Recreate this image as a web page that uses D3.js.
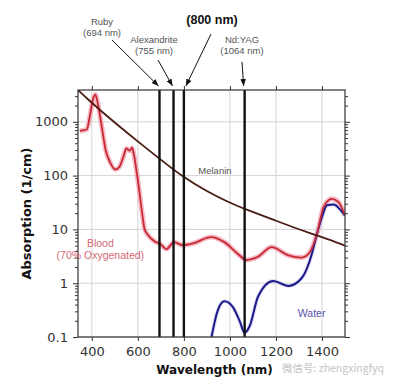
<!DOCTYPE html>
<html>
<head>
<meta charset="utf-8">
<script src="https://cdn.jsdelivr.net/npm/d3@7"></script>
<style>
  body { margin: 0; background: #fff; }
  #chart { width: 394px; height: 387px; }
  .tick text { font-family: "DejaVu Sans", sans-serif; font-size: 13px; fill: #333; }
  .axis path { display: none; }
  .axis line { stroke: #333; }
  .note { font-family: "Liberation Sans", Arial, sans-serif; font-size: 9.5px; fill: #555; }
</style>
</head>
<body>
<div id="chart"></div>
<script>
// absorption data

var xTicks = [400, 600, 800, 1000, 1200, 1400];
var yTicks = [0.1, 1, 10, 100, 1000];

var melaninNm  = [340, 388, 436, 497, 597, 698, 799, 900, 1000, 1064, 1200, 1300, 1400, 1500];
var melaninAbs = [3900, 2500, 1650, 990, 440, 200, 92, 51, 31, 24, 14.5, 10, 7.2, 5.0];

var bloodNm  = [348, 360, 378, 392, 405, 415, 425, 440, 460, 480, 502, 520, 538, 550, 565, 575, 582, 600, 619, 629, 641, 670, 699, 724, 757, 794, 840, 918, 976, 1035, 1071, 1122, 1181, 1254, 1312, 1348, 1378, 1407, 1443, 1472, 1500];
var bloodAbs = [680, 690, 720, 1300, 2600, 3200, 2300, 1000, 300, 175, 130, 145, 230, 320, 290, 330, 256, 82, 19.6, 10.2, 8.2, 6.1, 5.3, 4.3, 5.8, 5.1, 5.5, 7.2, 5.8, 3.5, 2.7, 3.1, 4.7, 3.3, 3.0, 3.8, 8.2, 26, 37, 32, 18];

var waterNm  = [920, 947, 976, 1013, 1042, 1064, 1086, 1122, 1188, 1254, 1312, 1356, 1378, 1400, 1422, 1451, 1480, 1500];
var waterAbs = [0.1, 0.31, 0.46, 0.36, 0.2, 0.12, 0.16, 0.56, 1.1, 0.89, 1.25, 3.5, 8.2, 17, 28, 29, 23, 18];

var laserNm    = [694, 755, 800, 1064];
var laserNames = ["Ruby", "Alexandrite", "", "Nd:YAG"];

// SVG attributes
var totalWidth = 394, totalHeight = 387;
var margin = {left: 78, right: 49, top: 90, bottom: 50};
var width = totalWidth - margin.left - margin.right;
var height = totalHeight - margin.top - margin.bottom;

var svg = d3.select("#chart").append("svg")
    .attr("width", totalWidth)
    .attr("height", totalHeight);

var g = svg.append("g")
    .attr("transform", "translate(" + margin.left + "," + margin.top + ")");

var xScale = d3.scaleLinear().domain([340, 1500]).range([0, width]);
var yScale = d3.scaleLog().domain([0.1, 3900]).range([height, 0]);

// minor ticks come from the log scale itself
var minorTicks = yScale.ticks().filter(function(d) { return yTicks.indexOf(d) < 0; });

// grid
g.append("g").selectAll("line")
    .data(xTicks).enter().append("line")
    .attr("x1", function(d) { return xScale(d); })
    .attr("x2", function(d) { return xScale(d); })
    .attr("y1", 0).attr("y2", height)
    .attr("stroke", "#d4d4d4");
g.append("g").selectAll("line")
    .data(yTicks).enter().append("line")
    .attr("x1", 0).attr("x2", width)
    .attr("y1", function(d) { return yScale(d); })
    .attr("y2", function(d) { return yScale(d); })
    .attr("stroke", "#d4d4d4");

// axes
g.append("g").attr("class", "axis")
    .attr("transform", "translate(0," + height + ")")
    .call(d3.axisBottom(xScale).tickValues(xTicks).tickSize(4).tickPadding(6).tickFormat(d3.format("d")));
g.append("g").attr("class", "axis")
    .call(d3.axisTop(xScale).tickValues(xTicks).tickSize(4).tickFormat(""));
g.append("g").attr("class", "axis")
    .call(d3.axisLeft(yScale).tickValues(yTicks).tickSize(5).tickPadding(5).tickFormat(d3.format("")));
g.append("g").attr("class", "axis")
    .call(d3.axisLeft(yScale).tickValues(minorTicks).tickSize(3).tickFormat(""));
g.append("g").attr("class", "axis")
    .attr("transform", "translate(" + width + ",0)")
    .call(d3.axisRight(yScale).tickValues(yTicks).tickSize(5).tickFormat(""));
g.append("g").attr("class", "axis")
    .attr("transform", "translate(" + width + ",0)")
    .call(d3.axisRight(yScale).tickValues(minorTicks).tickSize(3).tickFormat(""));

// clip
svg.append("defs").append("clipPath").attr("id", "plot")
    .append("rect").attr("width", width).attr("height", height);

var line = d3.line()
    .x(function(d) { return xScale(d[0]); })
    .y(function(d) { return yScale(d[1]); })
    .curve(d3.curveMonotoneX);

// melanin is a smooth falloff, so a basis spline reads better
var smoothLine = d3.line()
    .x(function(d) { return xScale(d[0]); })
    .y(function(d) { return yScale(d[1]); })
    .curve(d3.curveBasis);

function pairs(a, b) { return a.map(function(v, i) { return [v, b[i]]; }); }

var curves = g.append("g").attr("clip-path", "url(#plot)");

curves.append("path").datum(pairs(bloodNm, bloodAbs))
    .attr("d", line).attr("fill", "none")
    .attr("stroke", "#f3a9b6").attr("stroke-width", 5).attr("stroke-opacity", 0.8);
curves.append("path").datum(pairs(waterNm, waterAbs))
    .attr("d", line).attr("fill", "none")
    .attr("stroke", "#c8c4ee").attr("stroke-width", 4).attr("stroke-opacity", 0.6);
curves.append("path").datum(pairs(waterNm, waterAbs))
    .attr("d", line).attr("fill", "none")
    .attr("stroke", "#1c1a88").attr("stroke-width", 2);
curves.append("path").datum(pairs(bloodNm, bloodAbs))
    .attr("d", line).attr("fill", "none")
    .attr("stroke", "#c62a35").attr("stroke-width", 1.8);
curves.append("path").datum(pairs(melaninNm, melaninAbs))
    .attr("d", smoothLine).attr("fill", "none")
    .attr("stroke", "#4a1c14").attr("stroke-width", 1.8);

// laser lines
g.append("g").selectAll("line")
    .data(laserNm).enter().append("line")
    .attr("x1", function(d) { return xScale(d); })
    .attr("x2", function(d) { return xScale(d); })
    .attr("y1", 0).attr("y2", height)
    .attr("stroke", "#111").attr("stroke-width", 2.4);

// frame
g.append("rect").attr("width", width).attr("height", height)
    .attr("fill", "none").attr("stroke", "#333").attr("stroke-width", 1.2);

// curve labels
g.append("text").attr("class", "note").attr("x", xScale(935)).attr("y", yScale(100) - 2)
    .attr("text-anchor", "middle").text("Melanin");
g.append("text").attr("class", "note").attr("x", xScale(437)).attr("y", yScale(10) + 18)
    .attr("text-anchor", "middle").style("fill", "#d46876").style("font-size", "10.5px").text("Blood");
g.append("text").attr("class", "note").attr("x", xScale(437)).attr("y", yScale(10) + 30)
    .attr("text-anchor", "middle").style("fill", "#d46876").style("font-size", "10.5px").text("(70% Oxygenated)");
g.append("text").attr("class", "note").attr("x", xScale(1355)).attr("y", yScale(1) + 34)
    .attr("text-anchor", "middle").style("fill", "#5252a6").style("font-size", "10.5px").text("Water");

// laser annotations
svg.append("defs").append("marker")
    .attr("id", "head").attr("viewBox", "0 0 10 10")
    .attr("refX", 10).attr("refY", 5)
    .attr("markerWidth", 7).attr("markerHeight", 7)
    .attr("orient", "auto")
    .append("path").attr("d", "M0,1L10,5L0,9Z").attr("fill", "#111");

var notePos = [
  {tx: 102, ty: 25, ax: 112, ay: 40},
  {tx: 154, ty: 43, ax: 158, ay: 60},
  {tx: 212, ty: 24, ax: 211, ay: 34},
  {tx: 242, ty: 43, ax: 242, ay: 62}
];

laserNm.forEach(function(nm, i) {
  var p = notePos[i];
  var label = "(" + nm + " nm)";
  if (laserNames[i]) {
    svg.append("text").attr("class", "note").attr("x", p.tx).attr("y", p.ty)
        .attr("text-anchor", "middle").text(laserNames[i]);
    svg.append("text").attr("class", "note").attr("x", p.tx).attr("y", p.ty + 11)
        .attr("text-anchor", "middle").text(label);
  } else {
    svg.append("text").attr("x", p.tx).attr("y", p.ty)
        .attr("text-anchor", "middle")
        .style("font-family", "Liberation Sans, Arial, sans-serif")
        .style("font-size", "12.5px").style("font-weight", "bold").style("fill", "#111")
        .text(label);
  }
  svg.append("line")
      .attr("x1", p.ax).attr("y1", p.ay)
      .attr("x2", margin.left + xScale(nm) + (i == 2 ? 2 : -1)).attr("y2", margin.top - 4)
      .attr("stroke", "#111").attr("stroke-width", 1)
      .attr("marker-end", "url(#head)");
});

// axis titles
svg.append("text")
    .attr("transform", "translate(26," + (margin.top + height / 2) + ") rotate(-90)")
    .attr("text-anchor", "middle").attr("dy", "0.35em")
    .style("font-family", "DejaVu Sans, sans-serif").style("font-size", "13px")
    .style("font-weight", "bold").style("fill", "#111")
    .text("Absorption (1/cm)");
svg.append("text")
    .attr("x", margin.left + width / 2 + 3).attr("y", 374)
    .attr("text-anchor", "middle")
    .style("font-family", "DejaVu Sans, sans-serif").style("font-size", "12px")
    .style("font-weight", "bold").style("fill", "#111")
    .text("Wavelength (nm)");

// watermark
svg.append("text")
    .attr("x", 384).attr("y", 372)
    .attr("text-anchor", "end")
    .style("font-family", "Noto Sans CJK SC, sans-serif").style("font-size", "10.5px")
    .style("fill", "#c4c4c4")
    .text("微信号: zhengxingfyq");
</script>
</body>
</html>
